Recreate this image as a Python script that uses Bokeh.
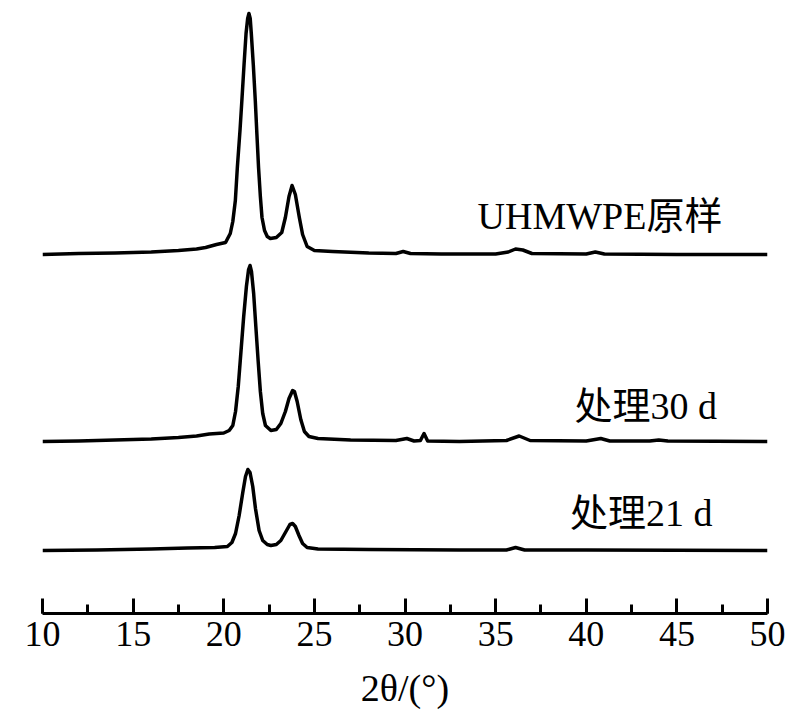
from bokeh.plotting import figure
from bokeh.models import Range1d, SingleIntervalTicker, ColumnDataSource
from bokeh.core.properties import value
from bokeh.embed import file_html
from bokeh.resources import INLINE

# ---- data (2theta in degrees, intensity in arbitrary units above each baseline) ----
raw_x = [10, 12, 14, 16, 17.5, 18.5, 19.0, 19.6, 20.1, 20.36, 20.5, 20.64, 20.75, 20.9, 21.0,
         21.12, 21.23, 21.32, 21.39, 21.46, 21.52, 21.63, 21.74, 21.83, 21.92, 22.02, 22.11,
         22.25, 22.4, 22.57, 22.9, 23.2, 23.4, 23.6, 23.77, 23.95, 24.17, 24.35, 24.6, 25.0,
         26, 28, 29.5, 29.9, 30.3, 32, 35, 35.7, 36.1, 36.5, 37.0, 40, 40.5, 41, 45, 50]
raw_y = [0, 1, 1.5, 2.5, 4, 5.5, 7, 10, 12, 21, 33, 54, 87, 125, 154,
         190, 221, 236, 241, 236, 221, 190, 154, 120, 87, 58, 37,
         24, 18, 16, 17, 22, 37, 58, 69, 60, 37, 20, 8, 4,
         3, 1.5, 1, 3, 1, 0.5, 0.5, 2.5, 5.5, 4.5, 1, 0.5, 2.5, 0.5, 0, 0]

d30_x = [10, 12, 14, 16, 17.5, 18.5, 19.2, 20.0, 20.3, 20.5, 20.65, 20.8, 20.95, 21.1, 21.25,
         21.37, 21.45, 21.53, 21.65, 21.77, 21.9, 22.02, 22.15, 22.3, 22.6, 22.9, 23.15, 23.4,
         23.6, 23.8, 23.9, 24.05, 24.25, 24.45, 24.7, 25.2, 27, 29.5, 30.1, 30.5, 30.85, 31.05,
         31.25, 33, 35.6, 36.3, 36.9, 40, 40.8, 41.3, 43.5, 44.0, 44.5, 50]
d30_y = [0, 0.5, 1.5, 2.5, 4, 5.5, 7.5, 8.5, 11, 16, 30, 55, 90, 125, 155,
         172, 176, 170, 148, 115, 80, 50, 28, 16, 11, 12, 18, 30,
         43, 51, 50, 40, 22, 10, 5, 3, 1.5, 1, 3, 0.5, 1, 8,
         0.5, 0, 1, 5.5, 1, 0.5, 3, 0.5, 0.5, 1.5, 0.5, 0]

d21_x = [10, 13, 16, 18, 19.5, 20.2, 20.45, 20.65, 20.85, 21.05, 21.2, 21.33, 21.45, 21.6,
         21.75, 21.95, 22.15, 22.4, 22.6, 22.9, 23.15, 23.4, 23.65, 23.8, 23.95, 24.15, 24.35,
         24.6, 25.2, 28, 33, 35.6, 36.1, 36.6, 40, 50]
d21_y = [0, 0.5, 1.5, 2.5, 3, 4, 8, 17, 35, 58, 74, 81, 78, 64,
         42, 20, 10, 6, 5, 6, 10, 18, 26, 27, 24, 15, 7,
         3, 1.5, 1, 0.5, 0.5, 3, 0.5, 0.5, 0]

series_names = ["UHMWPE原样", "处理30 d", "处理21 d"]
series_offsets = [359, 172, 63]
label_x = [34.0, 39.35, 39.1]
label_y = [398, 208, 101]

x_ticks_major = 5

serif_latin = "'Liberation Serif', 'Times New Roman', 'DejaVu Serif', serif"
serif = "'Liberation Serif', 'Times New Roman', 'Noto Sans CJK SC', serif"

p = figure(width=796, height=716, output_backend="svg", toolbar_location=None,
           x_range=Range1d(10, 50), y_range=Range1d(0, 605),
           min_border_left=42, min_border_right=29, min_border_top=8, min_border_bottom=103)
p.outline_line_color = None
p.grid.visible = False
p.yaxis.visible = False
p.background_fill_color = "white"

xs_all = [raw_x, d30_x, d21_x]
ys_all = [raw_y, d30_y, d21_y]
for xs, ys, off in zip(xs_all, ys_all, series_offsets):
    src = ColumnDataSource(dict(x=xs, y=[v + off for v in ys]))
    p.line("x", "y", source=src, line_color="black", line_width=3.5, line_join="round")

lab_src = ColumnDataSource(dict(x=label_x, y=label_y, t=series_names))
p.text("x", "y", text="t", source=lab_src, text_font=value(serif), text_font_size="38px",
       text_color="black", text_align="left", text_baseline="middle")

ax = p.xaxis[0]
ax.ticker = SingleIntervalTicker(interval=x_ticks_major, num_minor_ticks=2)
ax.axis_line_width = 3
ax.axis_line_color = "black"
ax.major_tick_in = 15
ax.major_tick_out = 0
ax.minor_tick_in = 9
ax.minor_tick_out = 0
ax.major_tick_line_width = 3
ax.minor_tick_line_width = 3
ax.major_tick_line_color = "black"
ax.minor_tick_line_color = "black"
ax.major_label_text_font = serif_latin
ax.major_label_text_font_size = "36px"
ax.major_label_text_color = "black"
ax.major_label_standoff = 8
ax.axis_label = "2θ/(°)"
ax.axis_label_text_font = serif_latin
ax.axis_label_text_font_style = "normal"
ax.axis_label_text_font_size = "38px"
ax.axis_label_text_color = "black"
ax.axis_label_standoff = 18

open("out.html", "w").write(file_html(p, INLINE))
